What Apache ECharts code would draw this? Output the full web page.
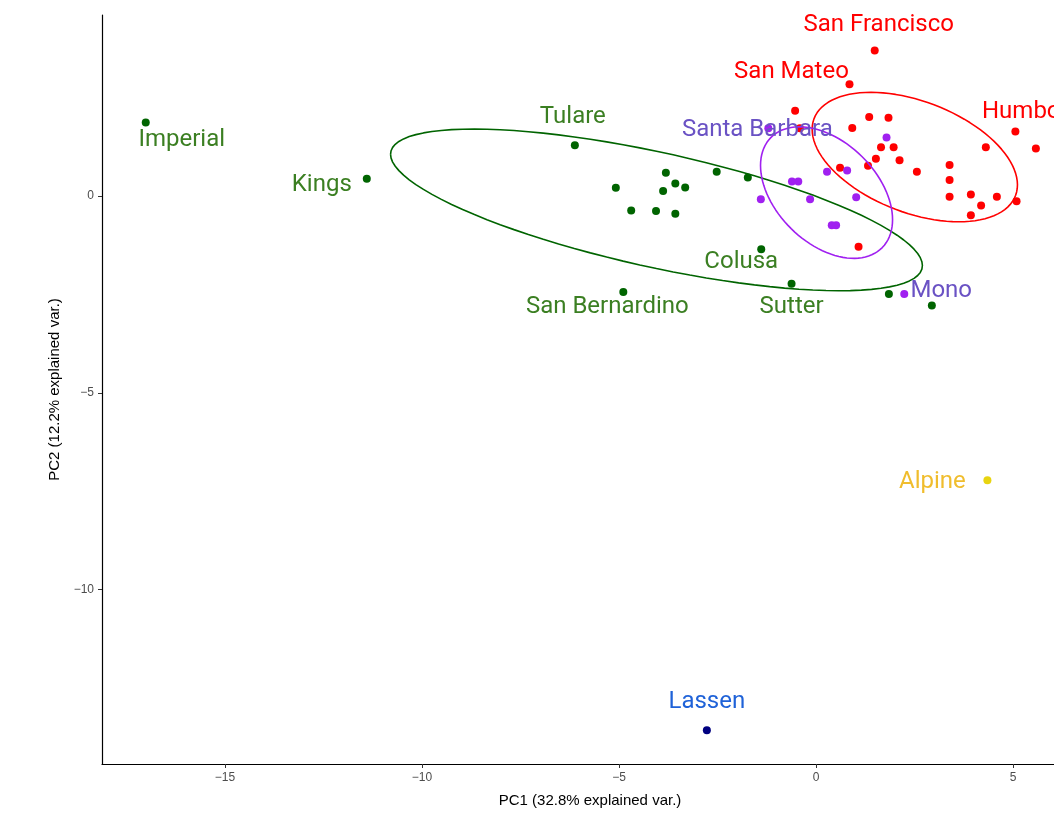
<!DOCTYPE html>
<html>
<head>
<meta charset="utf-8">
<script src="https://cdn.jsdelivr.net/npm/echarts@6/dist/echarts.min.js"></script>
<style>
  html, body { margin: 0; padding: 0; background: #fff; }
  #chart { width: 1054px; height: 816px; }
</style>
</head>
<body>
<div id="chart"></div>
<script>
// PCA scores of California counties (PC1, PC2), grouped into clusters.
// Inland / valley cluster
const inlandNames = ['Imperial', 'Kings', 'Tulare', '', '', '', '', '', '', '', '', '', '', 'Colusa', 'San Bernardino', 'Sutter', '', ''];
const inlandPC1 = [-17.01, -11.40, -6.12, -5.08, -3.81, -3.57, -3.88, -3.32, -2.52, -1.73, -4.69, -4.06, -3.57, -1.39, -4.89, -0.62, 1.85, 2.94];
const inlandPC2 = [1.87, 0.44, 1.29, 0.21, 0.59, 0.32, 0.13, 0.22, 0.62, 0.47, -0.37, -0.38, -0.45, -1.35, -2.44, -2.23, -2.49, -2.78];

// Bay Area / north coast cluster
const coastNames = ['San Francisco', 'San Mateo', '', '', '', '', '', '', '', '', '', '', '', '', '', '', '', '', '', '', '', '', '', '', 'Humboldt', ''];
const coastPC1 = [1.49, 0.85, -0.53, -0.41, 1.35, 1.84, 0.92, 1.65, 1.97, 1.52, 2.12, 1.32, 0.61, 2.56, 3.39, 3.39, 3.39, 3.93, 4.59, 4.19, 3.93, 5.09, 4.31, 5.06, 5.58, 1.08];
const coastPC2 = [3.70, 2.84, 2.17, 1.72, 2.01, 1.99, 1.73, 1.24, 1.24, 0.95, 0.91, 0.77, 0.72, 0.62, 0.79, 0.41, -0.02, 0.04, -0.02, -0.24, -0.49, -0.13, 1.24, 1.64, 1.21, -1.29];

// Central coast / sierra cluster
const centralNames = ['', '', '', '', '', '', '', '', '', 'Santa Barbara', '', 'Mono'];
const centralPC1 = [-1.40, -0.61, -0.45, -0.15, 0.28, 0.79, 1.02, 0.40, 0.51, -1.21, 1.79, 2.24];
const centralPC2 = [-0.08, 0.37, 0.37, -0.08, 0.62, 0.65, -0.03, -0.74, -0.74, 1.72, 1.49, -2.49];

// Single-county clusters
const alpineNames = ['Alpine'];
const alpinePC1 = [4.35];
const alpinePC2 = [-7.22];
const lassenNames = ['Lassen'];
const lassenPC1 = [-2.77];
const lassenPC2 = [-13.57];

// Axis ticks
const xTicks = [-15, -10, -5, 0, 5];
const yTicks = [-10, -5, 0];

// Label placement (pixel offsets from the point)
const labelOffsets = {
  'Imperial': [36, 18], 'Kings': [-45, 6], 'Tulare': [-2, -28], 'Colusa': [-20, 13],
  'San Bernardino': [-16, 15], 'Sutter': [0, 23], 'San Francisco': [4, -25],
  'San Mateo': [-58, -12], 'Humboldt': [-1, -36], 'Santa Barbara': [-11, 2],
  'Mono': [37, -3], 'Alpine': [-55, 2], 'Lassen': [0, -28]
};

const groups = [
  { names: inlandNames, x: inlandPC1, y: inlandPC2, point: '#006400', text: '#3b7f22', ellipse: true },
  { names: coastNames, x: coastPC1, y: coastPC2, point: '#ff0000', text: '#ff0000', ellipse: true },
  { names: centralNames, x: centralPC1, y: centralPC2, point: '#a020f0', text: '#6a52c4', ellipse: true },
  { names: alpineNames, x: alpinePC1, y: alpinePC2, point: '#e8d410', text: '#f0bd2d', ellipse: false },
  { names: lassenNames, x: lassenPC1, y: lassenPC2, point: '#000080', text: '#1f62d8', ellipse: false }
];

// Normal-theory 68% ellipse from a group's mean and covariance
function groupEllipse(xs, ys, prob) {
  const n = xs.length;
  const mx = xs.reduce((a, b) => a + b, 0) / n;
  const my = ys.reduce((a, b) => a + b, 0) / n;
  let sxx = 0, syy = 0, sxy = 0;
  for (let i = 0; i < n; i++) {
    sxx += (xs[i] - mx) * (xs[i] - mx);
    syy += (ys[i] - my) * (ys[i] - my);
    sxy += (xs[i] - mx) * (ys[i] - my);
  }
  sxx /= (n - 1); syy /= (n - 1); sxy /= (n - 1);
  const r11 = Math.sqrt(sxx);
  const r12 = sxy / r11;
  const r22 = Math.sqrt(syy - r12 * r12);
  const ed = Math.sqrt(-2 * Math.log(1 - prob));
  const pts = [];
  const steps = 100;
  for (let k = 0; k <= steps; k++) {
    const t = -Math.PI + 2 * Math.PI * k / steps;
    const c = Math.cos(t), s = Math.sin(t);
    pts.push([mx + ed * c * r11, my + ed * (c * r12 + s * r22)]);
  }
  return pts;
}

const series = [];
const labelFont = 'Roboto, "Noto Sans", sans-serif';
const axisFont = '"Liberation Sans", Arial, sans-serif';

groups.forEach((g) => {
  series.push({
    type: 'scatter',
    data: g.x.map((v, i) => [v, g.y[i]]),
    symbolSize: 8,
    itemStyle: { color: g.point, opacity: 1 },
    z: 2,
    silent: true
  });
});

groups.forEach((g) => {
  if (!g.ellipse) return;
  series.push({
    type: 'line',
    data: groupEllipse(g.x, g.y, 0.68),
    showSymbol: false,
    symbol: 'none',
    smooth: false,
    lineStyle: { color: g.point, width: 1.6, opacity: 1 },
    z: 3,
    silent: true
  });
});

groups.forEach((g) => {
  const items = [];
  g.names.forEach((nm, i) => {
    if (!nm) return;
    items.push({
      value: [g.x[i], g.y[i]],
      name: nm,
      label: { offset: labelOffsets[nm] || [0, 0] }
    });
  });
  series.push({
    type: 'scatter',
    data: items,
    symbolSize: 0,
    z: 4,
    silent: true,
    itemStyle: { opacity: 1 },
    label: {
      show: true,
      position: 'inside',
      formatter: (p) => p.name,
      color: g.text,
      opacity: 1,
      fontFamily: labelFont,
      fontSize: 24,
      align: 'center',
      verticalAlign: 'middle'
    }
  });
});

const minus = (v) => String(v).replace('-', '\u2212');

const chart = echarts.init(document.getElementById('chart'), null, { renderer: 'canvas' });
chart.setOption({
  animation: false,
  backgroundColor: '#ffffff',
  grid: { left: 102, top: 15, right: 0, bottom: 52, containLabel: false },
  xAxis: {
    type: 'value',
    min: -18.12,
    max: 6.04,
    name: 'PC1 (32.8% explained var.)',
    nameLocation: 'middle',
    nameGap: 29,
    nameTextStyle: { color: '#000', fontSize: 15, fontFamily: axisFont, padding: [0, 0, 0, 24] },
    axisLine: { show: true, onZero: false, lineStyle: { color: '#000', width: 1.2 } },
    axisTick: { show: true, length: 4, customValues: xTicks, lineStyle: { color: '#333' } },
    axisLabel: { customValues: xTicks, formatter: minus, margin: 8, color: '#4d4d4d', fontSize: 12, fontFamily: axisFont },
    splitLine: { show: false }
  },
  yAxis: {
    type: 'value',
    min: -14.43,
    max: 4.6,
    name: 'PC2 (12.2% explained var.)',
    nameLocation: 'middle',
    nameGap: 40,
    nameRotate: 90,
    nameTextStyle: { color: '#000', fontSize: 15, fontFamily: axisFont },
    axisLine: { show: true, onZero: false, lineStyle: { color: '#000', width: 1.2 } },
    axisTick: { show: true, length: 4, customValues: yTicks, lineStyle: { color: '#333' } },
    axisLabel: { customValues: yTicks, formatter: minus, margin: 8, color: '#4d4d4d', fontSize: 12, fontFamily: axisFont },
    splitLine: { show: false }
  },
  series: series
});
</script>
</body>
</html>
